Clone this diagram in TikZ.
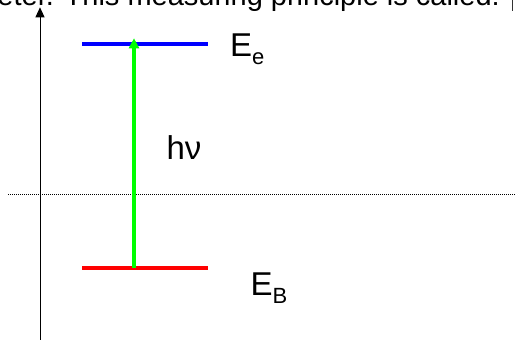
\documentclass[tikz,border=0pt]{standalone}
\usepackage{fontspec}
\setmainfont{Liberation Sans}
\usetikzlibrary{arrows.meta}
\tikzset{
  lbl/.style={anchor=base west, inner sep=0pt, outer sep=0pt, font=\fontsize{33}{35}\selectfont},
  level/.style={line width=3.8pt},
}
\newcommand{\mysub}[1]{\raisebox{-7.6pt}{\fontsize{22}{23}\selectfont #1}}
\begin{document}
\begin{tikzpicture}[x=1pt,y=1pt]
\useasboundingbox (0,0) rectangle (515,340);
% top clipped text line
\node[anchor=base west, inner sep=0pt, font=\fontsize{29}{30}\selectfont] (top) at (-2.7,334) {eter. This measuring principle is called:};
\coordinate (barT) at (512.7,340);
\coordinate (barB) at (512.7,329);
\draw[line width=0.9pt, black!80] (barB) -- (barT);
% dotted line
\coordinate (dL) at (8,146);
\coordinate (dR) at (515,146);
\draw[line width=0.9pt, dash pattern=on 1pt off 1pt] (dL) -- (dR);
% axis
\coordinate (axB) at (40,-2);
\coordinate (axT) at (40,332.7);
\draw[line width=1pt, -{Triangle[width=9pt,length=10pt]}] (axB) -- (axT);
% levels
\coordinate (eL) at (82,296.3);
\coordinate (eR) at (208,296.3);
\coordinate (bL) at (82,72.2);
\coordinate (bR) at (208,72.2);
\draw[level, blue] (eL) -- (eR);
\draw[level, red] (bL) -- (bR);
% transition arrow
\coordinate (g0) at (134,72.2);
\coordinate (g1) at (134,301.7);
\draw[line width=4pt, green, -{Triangle[width=10pt,length=10pt]}] (g0) -- (g1);
% labels
\node[lbl] (Ee) at (230,283.3) {E\mysub{e}};
\node[lbl] (EB) at (250.5,44.3) {E\mysub{B}};
\node[lbl] (hnu) at (166.5,180.7) {hν};
\end{tikzpicture}
\end{document}
